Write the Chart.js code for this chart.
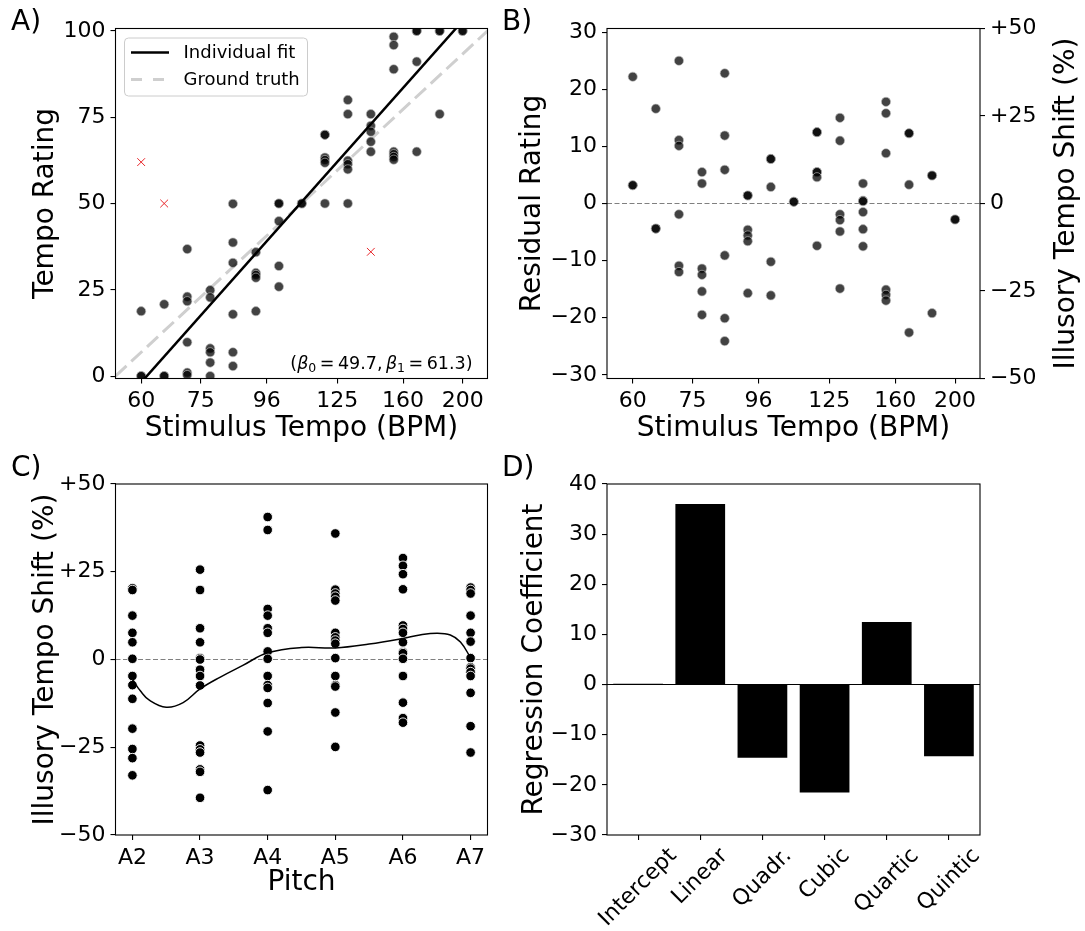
<!DOCTYPE html>
<html><head><meta charset="utf-8">
<script src="https://cdn.jsdelivr.net/npm/chart.js@4/dist/chart.umd.min.js"></script>
<style>
html,body{margin:0;padding:0;background:#fff;}
#wrap{position:relative;width:1085px;height:931px;overflow:hidden;background:#fff;}
canvas{position:absolute;left:0;top:0;pointer-events:none;}
</style></head><body><div id="wrap">
<canvas id="cA" width="1085" height="931"></canvas>
<canvas id="cB" width="1085" height="931"></canvas>
<canvas id="cC" width="1085" height="931"></canvas>
<canvas id="cD" width="1085" height="931"></canvas>
</div>
<script>
// ---------------- DATA ----------------
const TEMPO_TICKS = [60, 75, 96, 125, 160, 200];
const RATING_TICKS = [0, 25, 50, 75, 100];
const RESID_TICKS = [-30, -20, -10, 0, 10, 20, 30];
const SHIFT_TICKS = [-50, -25, 0, 25, 50];
const COEF_TICKS = [-30, -20, -10, 0, 10, 20, 30, 40];

// Panel A: tempo (BPM) / rating pairs
const RATING_TEMPO = [
  60,60,60,
  65.4,65.4,65.4,
  71.3,71.3,71.3,71.3,71.3,71.3,
  77.7,77.7,77.7,77.7,77.7,77.7,
  84.6,84.6,84.6,84.6,84.6,84.6,
  92.2,92.2,92.2,92.2,92.2,
  100.5,100.5,100.5,100.5,100.5,
  109.5,109.5,
  119.4,119.4,119.4,119.4,119.4,119.4,
  130.1,130.1,130.1,130.1,130.1,130.1,
  141.8,141.8,141.8,141.8,141.8,
  154.5,154.5,154.5,154.5,154.5,154.5,154.5,
  168.4,168.4,168.4,168.4,
  183.5,183.5,183.5,
  200,200
];
const RATING_VALUE = [
  18.8,0,0,
  20.8,0,0,
  36.8,23.0,21.7,9.8,1.0,0.3,
  24.9,22.8,8.0,6.9,3.9,0,
  49.9,38.7,32.8,17.9,6.9,2.9,
  35.9,29.9,29.3,28.5,18.8,
  50,50,44.9,31.9,25.9,
  50,50,
  69.9,69.9,63.3,62.6,61.8,50,
  80,75.9,62.4,61.4,59.9,50,
  75.9,72.5,70.8,67.9,65.0,
  98.3,95.9,88.9,65.0,64.3,63.5,62.7,
  100,100,91.1,65.0,
  100,100,75.9,
  100,100
];
const OUTLIER_TEMPO = [60, 65.4, 141.8];
const OUTLIER_VALUE = [62, 50, 36];
const FIT_TEMPO = [54.5, 219.5];
const FIT_RATING = [-10.2, 111.0];
const TRUTH_TEMPO = [54.5, 219.5];
const TRUTH_RATING = [0, 100];

// Panel B: residuals
const RESID_TEMPO = [
  60,60,60,
  65.4,65.4,65.4,
  71.3,71.3,71.3,71.3,71.3,71.3,
  77.7,77.7,77.7,77.7,77.7,77.7,
  84.6,84.6,84.6,84.6,84.6,84.6,
  92.2,92.2,92.2,92.2,92.2,92.2,
  100.5,100.5,100.5,100.5,100.5,
  109.5,109.5,
  119.4,119.4,119.4,119.4,119.4,119.4,
  130.1,130.1,130.1,130.1,130.1,130.1,
  141.8,141.8,141.8,141.8,141.8,141.8,
  154.5,154.5,154.5,154.5,154.5,154.5,
  168.4,168.4,168.4,168.4,
  183.5,183.5,183.5,
  200,200
];
const RESID_VALUE = [
  22.2,3.2,3.2,
  16.6,-4.4,-4.4,
  25.0,11.1,10.1,-1.9,-10.9,-12.0,
  5.5,3.5,-11.4,-12.5,-15.4,-19.5,
  22.8,11.9,5.9,-9.1,-20.1,-24.1,
  1.4,1.4,-4.6,-5.6,-6.6,-15.7,
  7.8,7.8,2.9,-10.2,-16.1,
  0.3,0.3,
  12.5,12.5,5.5,5.5,4.6,-7.4,
  15.0,11.0,-1.9,-2.9,-4.9,-14.9,
  3.5,0.5,0.4,-1.5,-4.5,-7.5,
  17.8,15.8,8.8,-15.1,-16.0,-17.0,
  12.3,12.3,3.3,-22.6,
  4.9,4.9,-19.2,
  -2.8,-2.8
];

// Panel C: illusory tempo shift (%) by pitch
const PITCHES = ['A2', 'A3', 'A4', 'A5', 'A6', 'A7'];
const SHIFT_A2 = [20.3, 19.8, 12.5, 7.6, 4.9, 0.2, -4.7, -7.3, -11.2, -19.7, -25.5, -28.1, -33.0];
const SHIFT_A3 = [25.6, 19.8, 8.9, 4.9, 0.4, 0.0, -2.9, -4.7, -7.4, -24.5, -25.6, -26.5, -31.3, -32.0, -39.4];
const SHIFT_A4 = [40.6, 36.9, 14.4, 12.5, 8.9, 7.6, 2.3, 0.2, -4.7, -7.3, -8.1, -12.4, -20.5, -37.2];
const SHIFT_A5 = [35.9, 19.9, 18.8, 17.9, 16.8, 7.6, 6.3, 5.4, 4.5, 0.4, -4.7, -7.3, -7.7, -15.1, -24.9];
const SHIFT_A6 = [28.9, 26.7, 24.3, 20.0, 9.7, 8.7, 7.6, 4.9, 2.1, 1.8, 0.2, -4.7, -12.3, -16.7, -18.0];
const SHIFT_A7 = [20.5, 19.8, 18.8, 12.5, 7.6, 5.1, 0.4, -2.2, -2.6, -3.6, -4.7, -9.5, -19.0, -26.5];
const CURVE_POS = [0, 0.12, 0.25, 0.5, 0.75, 1, 1.3, 1.64, 2, 2.5, 3, 3.5, 4, 4.25, 4.5, 4.7, 4.85, 5];
const CURVE_SHIFT = [-5.7, -9.0, -11.6, -13.6, -12.3, -8.4, -5.0, -1.6, 1.9, 3.4, 3.3, 4.4, 6.0, 7.0, 7.5, 7.0, 5.0, 0.5];

// Panel D: regression coefficients
const COEF_LABELS = ['Intercept', 'Linear', 'Quadr.', 'Cubic', 'Quartic', 'Quintic'];
const COEF_VALUES = [0.15, 36.0, -14.6, -21.5, 12.5, -14.3];

const BETA0 = '49.7', BETA1 = '61.3';

// ---------------- HELPERS ----------------
const FAM = "'DejaVu Sans', 'Liberation Sans', sans-serif";
Chart.defaults.font.family = FAM;
Chart.defaults.color = '#000';
Chart.defaults.animation = false;
Chart.defaults.responsive = false;
Chart.defaults.maintainAspectRatio = false;
Chart.defaults.devicePixelRatio = 1;
Chart.defaults.plugins.legend.display = false;
Chart.defaults.plugins.tooltip.enabled = false;

const TICK_FONT = {size: 22, family: FAM};
const TITLE_FONT = {size: 28, family: FAM};
const MINUS = '\u2212';
function fmtMinus(v) { return v < 0 ? MINUS + Math.abs(v) : String(v); }
function fmtSigned(v) { return v > 0 ? '+' + v : (v < 0 ? MINUS + Math.abs(v) : '0'); }
function pairs(xs, ys) { return xs.map((x, i) => ({x: x, y: ys[i]})); }
function fixed(list) { return (ax) => { ax.ticks = list.map(v => ({value: v})); }; }
function gridOpts() { return {display: true, drawOnChartArea: false, drawTicks: true, tickLength: 5, color: '#000', lineWidth: 1.1, offset: false}; }
function tickOpts(cb) { return {font: TICK_FONT, color: '#000', padding: 5, autoSkip: false, maxRotation: 0, minRotation: 0, callback: cb}; }
function titleOpts(text) { return {display: true, text: text, font: TITLE_FONT, color: '#000', padding: 0}; }

const boxPlugin = {
  id: 'box',
  afterDraw(chart) {
    const a = chart.chartArea, c = chart.ctx;
    c.save(); c.strokeStyle = '#000'; c.lineWidth = 1.1;
    c.strokeRect(a.left, a.top, a.right - a.left, a.bottom - a.top);
    c.restore();
  }
};
function panelLabel(text, x, y) {
  return {
    id: 'lbl' + text,
    afterDraw(chart) {
      const c = chart.ctx; c.save();
      c.font = '28px ' + FAM; c.fillStyle = '#000'; c.textBaseline = 'alphabetic'; c.textAlign = 'left';
      c.fillText(text, x, y); c.restore();
    }
  };
}

const PT_FILL = 'rgba(0,0,0,0.74)';
const PT_EDGE = 'rgba(190,190,190,0.8)';

// ---------------- PANEL A ----------------
const legendA = {
  id: 'legendA',
  afterDraw(chart) {
    const c = chart.ctx; c.save();
    const x = 124.5, y = 38, w = 183, h = 58, r = 4;
    c.beginPath(); c.roundRect(x, y, w, h, r);
    c.fillStyle = 'rgba(255,255,255,0.8)'; c.fill();
    c.strokeStyle = '#cccccc'; c.lineWidth = 1; c.stroke();
    c.lineCap = 'butt';
    c.strokeStyle = '#000'; c.lineWidth = 2.5; c.setLineDash([]);
    c.beginPath(); c.moveTo(131, 52.5); c.lineTo(169, 52.5); c.stroke();
    c.strokeStyle = '#cfcfcf'; c.lineWidth = 3; c.setLineDash([11, 11]);
    c.beginPath(); c.moveTo(131, 79.5); c.lineTo(169, 79.5); c.stroke();
    c.setLineDash([]);
    c.fillStyle = '#000'; c.font = '18px ' + FAM; c.textBaseline = 'middle'; c.textAlign = 'left';
    c.fillText('Individual fit', 183.5, 53);
    c.fillText('Ground truth', 183.5, 80);
    // annotation
    const parts = [
      ['(', 'n'], ['\u03B2', 'i'], ['0', 's'], ['\u2009=\u200949.7,\u2009', 'n'], ['\u03B2', 'i'], ['1', 's'], ['\u2009=\u200961.3)', 'n']
    ];
    const fN = '17.5px ' + FAM, fI = 'italic 17.5px ' + FAM, fS = '12.5px ' + FAM;
    let total = 0;
    parts.forEach(p => { c.font = p[1] === 'n' ? fN : (p[1] === 'i' ? fI : fS); total += c.measureText(p[0]).width; });
    let px = chart.chartArea.right - 15 - total;
    const base = 369;
    c.textBaseline = 'alphabetic';
    parts.forEach(p => {
      c.font = p[1] === 'n' ? fN : (p[1] === 'i' ? fI : fS);
      c.fillText(p[0], px, p[1] === 's' ? base + 3 : base);
      px += c.measureText(p[0]).width;
    });
    c.restore();
  }
};

new Chart(document.getElementById('cA'), {
  type: 'scatter',
  data: {datasets: [
    {type: 'line', data: pairs(TRUTH_TEMPO, TRUTH_RATING), borderColor: '#cfcfcf', borderWidth: 3, borderDash: [15, 6.5], pointRadius: 0, fill: false, order: 3},
    {type: 'line', data: pairs(FIT_TEMPO, FIT_RATING), borderColor: '#000', borderWidth: 2.5, pointRadius: 0, fill: false, order: 1},
    {data: pairs(RATING_TEMPO, RATING_VALUE), backgroundColor: PT_FILL, borderColor: PT_EDGE, borderWidth: 0.8, pointRadius: 4.6, order: 2},
    {data: pairs(OUTLIER_TEMPO, OUTLIER_VALUE), pointStyle: 'crossRot', borderColor: '#e8262a', backgroundColor: '#e8262a', borderWidth: 1, pointRadius: 5.5, order: 0}
  ]},
  options: {
    layout: {padding: {left: 29.2, top: 28.5, right: 597.5, bottom: 485.2}},
    scales: {
      x: {type: 'logarithmic', min: 54.5, max: 219.5, afterBuildTicks: fixed(TEMPO_TICKS), afterFit: (ax) => { ax.height = 67.3; },
          grid: gridOpts(), border: {display: false}, ticks: tickOpts(v => String(v)), title: titleOpts('Stimulus Tempo (BPM)')},
      y: {type: 'linear', min: -0.7, max: 100.7, bounds: 'data', afterBuildTicks: fixed(RATING_TICKS), afterFit: (ax) => { ax.width = 86.3; },
          grid: gridOpts(), border: {display: false}, ticks: tickOpts(v => String(v)), title: titleOpts('Tempo Rating')}
    }
  },
  plugins: [boxPlugin, legendA, panelLabel('A)', 11, 30)]
});

// ---------------- PANEL B ----------------
const rightTitleB = {
  id: 'rtB',
  afterDraw(chart) {
    const c = chart.ctx; c.save();
    c.translate(1067, (chart.chartArea.top + chart.chartArea.bottom) / 2);
    c.rotate(-Math.PI / 2);
    c.font = '28px ' + FAM; c.fillStyle = '#000'; c.textAlign = 'center'; c.textBaseline = 'middle';
    c.fillText('Illusory Tempo Shift (%)', 0, 0); c.restore();
  }
};
new Chart(document.getElementById('cB'), {
  type: 'scatter',
  data: {datasets: [
    {type: 'line', data: pairs([54.5, 219.5], [0, 0]), borderColor: '#808080', borderWidth: 1.2, borderDash: [5, 2.5], pointRadius: 0, fill: false, order: 3},
    {data: pairs(RESID_TEMPO, RESID_VALUE), backgroundColor: PT_FILL, borderColor: PT_EDGE, borderWidth: 0.8, pointRadius: 4.6, order: 1}
  ]},
  options: {
    layout: {padding: {left: 516.2, top: 28.5, right: 45, bottom: 485.2}},
    scales: {
      x: {type: 'logarithmic', min: 54.5, max: 219.5, afterBuildTicks: fixed(TEMPO_TICKS), afterFit: (ax) => { ax.height = 67.3; },
          grid: gridOpts(), border: {display: false}, ticks: tickOpts(v => String(v)), title: titleOpts('Stimulus Tempo (BPM)')},
      y: {type: 'linear', position: 'left', min: -30.65, max: 30.65, bounds: 'data', afterBuildTicks: fixed(RESID_TICKS), afterFit: (ax) => { ax.width = 90.8; },
          grid: gridOpts(), border: {display: false}, ticks: tickOpts(fmtMinus), title: titleOpts('Residual Rating')},
      y2: {type: 'linear', position: 'right', min: -50, max: 50, bounds: 'data', afterBuildTicks: fixed(SHIFT_TICKS), afterFit: (ax) => { ax.width = 60; },
          grid: gridOpts(), border: {display: false}, ticks: tickOpts(fmtSigned)}
    }
  },
  plugins: [boxPlugin, rightTitleB, panelLabel('B)', 502, 30)]
});

// ---------------- PANEL C ----------------
const C_SETS = [SHIFT_A2, SHIFT_A3, SHIFT_A4, SHIFT_A5, SHIFT_A6, SHIFT_A7];
const cPoints = [];
C_SETS.forEach((arr, i) => arr.forEach(v => cPoints.push({x: i, y: v})));
new Chart(document.getElementById('cC'), {
  type: 'scatter',
  data: {datasets: [
    {type: 'line', data: pairs([-0.25, 5.25], [0, 0]), borderColor: '#808080', borderWidth: 1.2, borderDash: [5, 2.5], pointRadius: 0, fill: false, order: 3},
    {data: cPoints, backgroundColor: '#000', borderColor: '#fff', borderWidth: 0.9, pointRadius: 4.8, order: 2},
    {type: 'line', data: pairs(CURVE_POS, CURVE_SHIFT), borderColor: '#000', borderWidth: 1.5, pointRadius: 0, fill: false, tension: 0.4, order: 1}
  ]},
  options: {
    layout: {padding: {left: 29.2, top: 484, right: 597.5, bottom: 31.2}},
    scales: {
      x: {type: 'linear', min: -0.25, max: 5.25, bounds: 'data', afterBuildTicks: fixed([0, 1, 2, 3, 4, 5]), afterFit: (ax) => { ax.height = 64.8; },
          grid: gridOpts(), border: {display: false}, ticks: tickOpts(v => PITCHES[Math.round(v)]), title: titleOpts('Pitch')},
      y: {type: 'linear', min: -50, max: 50, bounds: 'data', afterBuildTicks: fixed(SHIFT_TICKS), afterFit: (ax) => { ax.width = 86.3; },
          grid: gridOpts(), border: {display: false}, ticks: tickOpts(fmtSigned), title: titleOpts('Illusory Tempo Shift (%)')}
    }
  },
  plugins: [boxPlugin, panelLabel('C)', 11, 476)]
});

// ---------------- PANEL D ----------------
const dExtras = {
  id: 'dExtras',
  afterDatasetsDraw(chart) {
    const c = chart.ctx, a = chart.chartArea, ys = chart.scales.y, xs = chart.scales.x;
    c.save();
    const y0 = ys.getPixelForValue(0);
    c.strokeStyle = '#000'; c.lineWidth = 1.1;
    c.beginPath(); c.moveTo(a.left, y0); c.lineTo(a.right, y0); c.stroke();
    // rotated tick labels (centred like matplotlib)
    const s = 22;
    c.font = s + 'px ' + FAM; c.fillStyle = '#000'; c.textAlign = 'left'; c.textBaseline = 'alphabetic';
    const asc = 0.76 * s, des = 0.24 * s, r2 = Math.SQRT2;
    COEF_LABELS.forEach((lab, i) => {
      const tx = xs.getPixelForValue(i), ty = a.bottom + 9.7;
      const w = c.measureText(lab).width;
      const X0 = tx - (w + des - asc) / (2 * r2);
      const Y0 = ty + (w + asc) / r2;
      c.save(); c.translate(X0, Y0); c.rotate(-Math.PI / 4); c.fillText(lab, 0, 0); c.restore();
    });
    c.restore();
  }
};
new Chart(document.getElementById('cD'), {
  type: 'bar',
  data: {labels: COEF_LABELS, datasets: [{data: COEF_VALUES, backgroundColor: '#000', borderWidth: 0, barPercentage: 0.8, categoryPercentage: 1.0}]},
  options: {
    layout: {padding: {left: 518.2, top: 484, right: 105, bottom: 2}},
    scales: {
      x: {type: 'category', offset: true, afterFit: (ax) => { ax.height = 94; },
          grid: gridOpts(), border: {display: false}, ticks: {display: false}},
      y: {type: 'linear', min: -30, max: 40, bounds: 'data', afterBuildTicks: fixed(COEF_TICKS), afterFit: (ax) => { ax.width = 88.8; },
          grid: gridOpts(), border: {display: false}, ticks: tickOpts(fmtMinus), title: titleOpts('Regression Coefficient')}
    }
  },
  plugins: [boxPlugin, dExtras, panelLabel('D)', 502, 476)]
});
</script></body></html>
